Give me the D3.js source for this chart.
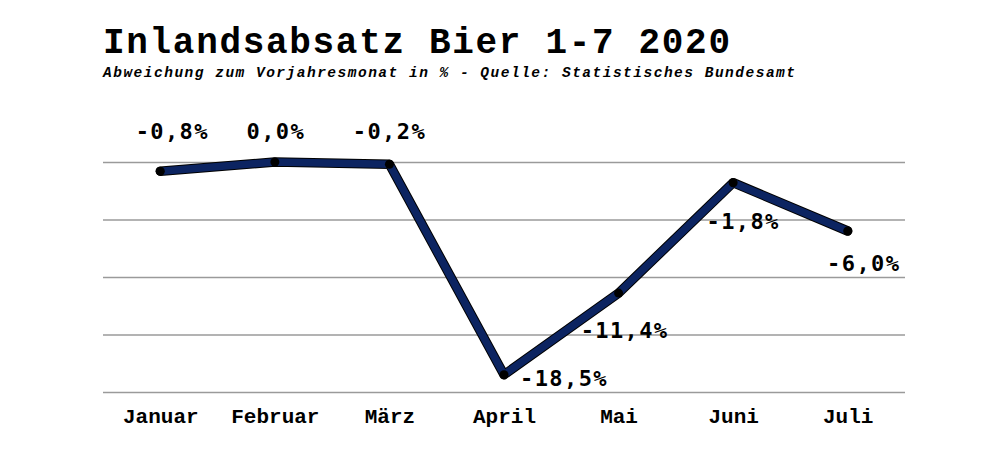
<!DOCTYPE html>
<html><head><meta charset="utf-8">
<script src="https://cdn.jsdelivr.net/npm/d3@7"></script>
<style>body{margin:0;background:#fff}svg{display:block}</style>
</head><body>
<svg id="c" width="1000" height="451"></svg>
<script>
const months = ["Januar","Februar","März","April","Mai","Juni","Juli"];
const values = [-0.8, 0.0, -0.2, -18.5, -11.4, -1.8, -6.0];
const gridTicks = [0, -5, -10, -15, -20];

const svg = d3.select("#c");
const x = d3.scalePoint().domain(months).range([103, 905]).padding(0.5);
const y = d3.scaleLinear().domain([0, -20]).range([162, 392]);

svg.append("text").attr("x",103).attr("y",53)
  .attr("font-family","'Liberation Mono', 'Courier New', monospace").attr("font-weight","bold")
  .attr("font-size",36).attr("textLength",627).attr("lengthAdjust","spacing")
  .text("Inlandsabsatz Bier 1-7 2020");
svg.append("text").attr("x",103).attr("y",77)
  .attr("font-family","'Liberation Mono', 'Courier New', monospace").attr("font-weight","bold").attr("font-style","italic")
  .attr("font-size",14.5).attr("textLength",692).attr("lengthAdjust","spacing")
  .text("Abweichung zum Vorjahresmonat in % - Quelle: Statistisches Bundesamt");

const yAxis = d3.axisLeft(y).tickValues(gridTicks).tickSize(-(905-103)).tickFormat("");
const g = svg.append("g").attr("transform","translate(103,0)").call(yAxis);
g.select(".domain").remove();
g.selectAll(".tick line").attr("stroke","#9a9a9a").attr("stroke-width",1.5);

const xAxis = d3.axisBottom(x).tickSize(0).tickPadding(0);
const gx = svg.append("g").attr("transform","translate(0,423)").call(xAxis);
gx.select(".domain").remove();
gx.selectAll(".tick text").attr("dy",0).attr("y",0)
  .attr("font-family","'Liberation Mono', 'Courier New', monospace").attr("font-weight","bold")
  .attr("font-size",21).attr("fill","#000");

const line = d3.line().x((d,i)=>x(months[i])).y(d=>y(d));
svg.append("path").datum(values).attr("d",line).attr("fill","none")
  .attr("stroke","#000").attr("stroke-width",9.5).attr("stroke-linejoin","round").attr("stroke-linecap","round");
svg.append("path").datum(values).attr("d",line).attr("fill","none")
  .attr("stroke","#0c2461").attr("stroke-width",7.5).attr("stroke-linejoin","round").attr("stroke-linecap","round");
svg.selectAll("circle.pt").data(values).enter().append("circle")
  .attr("cx",(d,i)=>x(months[i])).attr("cy",d=>y(d)).attr("r",4.5).attr("fill","#000");

const labelOffsets = [[12,-32],[1,-23],[0,-25],[60,11],[6,45],[10,46],[16,40]];
const fmt = v => (v===0 ? "0,0" : d3.format(".1f")(v).replace("−","-").replace(".",",")) + "%";
svg.selectAll("text.lbl").data(values).enter().append("text").attr("class","lbl")
  .attr("x",(d,i)=>x(months[i])+labelOffsets[i][0]).attr("y",(d,i)=>y(d)+labelOffsets[i][1])
  .attr("text-anchor","middle")
  .attr("font-family","'DejaVu Sans Mono', monospace").attr("font-weight","bold")
  .attr("font-size",22).attr("letter-spacing",1.4)
  .text(d=>fmt(d));
</script>
</body></html>
